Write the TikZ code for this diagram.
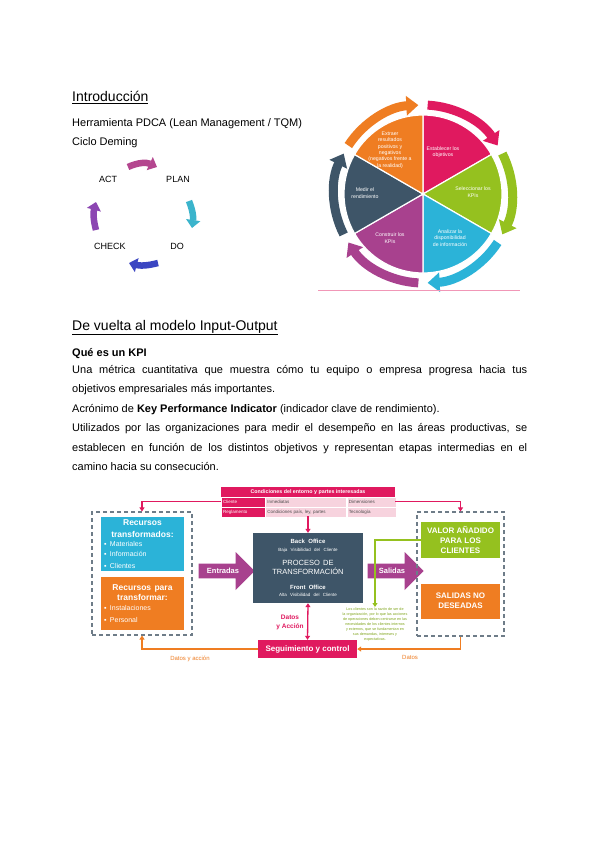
\documentclass[tikz,border=0pt]{standalone}
\usepackage{fontspec}
\setmainfont{Liberation Sans}
\usetikzlibrary{arrows.meta,positioning,calc,shapes.arrows}
\setlength{\parindent}{0pt}
\definecolor{rosa}{HTML}{E0195F}
\definecolor{rosaclaro}{HTML}{F7D3DE}
\definecolor{cian}{HTML}{2BB3D8}
\definecolor{naranja}{HTML}{EF7D22}
\definecolor{verde}{HTML}{95C11F}
\definecolor{pizarra}{HTML}{3E5568}
\definecolor{morado}{HTML}{A8418E}
\definecolor{gris}{HTML}{6E7C88}
\definecolor{cmag}{HTML}{B4468F}
\definecolor{ccian}{HTML}{3BB4CC}
\definecolor{cazul}{HTML}{3B46C2}
\definecolor{clila}{HTML}{8C46B2}

\begin{document}
\begin{tikzpicture}[x=1pt, y=-1pt,
  caja/.style={fill=#1, text=white, inner sep=0pt},
  celda/.style={fill=#1, draw=white, line width=0.4pt, minimum height=9.5pt, inner xsep=2pt, inner ysep=0pt, align=left, font=\fontsize{4.5}{5}\selectfont},
  marco/.style={draw=gris, dash pattern=on 4pt off 3pt, line width=1.1pt},
  flecha/.style={single arrow, fill=morado, text=white, font=\fontsize{7.5}{9}\selectfont\bfseries, minimum height=56pt, minimum width=38pt, single arrow head extend=8pt, inner sep=2pt},
  linea/.style={draw=#1, line width=1.3pt, -{Triangle[length=4pt,width=5pt]}},
  ciclo/.style={line width=6.5pt, -{Triangle[length=8pt,width=14pt]}},
  rueda/.style={line width=9pt, -{Triangle[length=12pt,width=19pt]}},
  wtxt/.style={text=white, align=center, font=\fontsize{5.2}{6.3}\selectfont},
  cuerpo/.style={anchor=base west, inner sep=0pt, font=\fontsize{11}{13}\selectfont}]
\useasboundingbox (0,0) rectangle (600,848);
\fill[white] (0,0) rectangle (600,848);

% Introduccion
\node[anchor=base west, inner sep=0pt, font=\fontsize{14}{16}\selectfont] (intro) at (72,102) {\underline{Introducción}};
\node[cuerpo] (pdca) at (72,126) {Herramienta PDCA (Lean Management / TQM)};
\node[cuerpo] (deming) at (72,146) {Ciclo Deming};

% ciclo PDCA
\node[font=\fontsize{9}{10}\selectfont] (act) at (108,179) {ACT};
\node[font=\fontsize{9}{10}\selectfont] (plan) at (178,179) {PLAN};
\node[font=\fontsize{9}{10}\selectfont] (check) at (110,246) {CHECK};
\node[font=\fontsize{9}{10}\selectfont] (do) at (177,246) {DO};
\draw[ciclo, cmag] ([shift={(20,-12)}]act.center) to[bend left=25] ([shift={(-21,-12)}]plan.center);
\draw[ciclo, ccian] ([shift={(11,22)}]plan.center) to[bend left=15] ([shift={(15,-18)}]do.center);
\draw[ciclo, cazul] ([shift={(-19,17)}]do.center) to[bend left=15] ([shift={(19,17)}]check.center);
\draw[ciclo, clila] ([shift={(-14,-16)}]check.center) to[bend left=15] ([shift={(-12,23)}]act.center);

% rueda de los KPI
\coordinate (wc) at (423,194);
\begin{scope}[shift={(wc)}, yscale=-1]
  \foreach \a/\c in {30/rosa, -30/verde, -90/cian, -150/morado, 150/pizarra, 90/naranja} {
    \filldraw[fill=\c, draw=white, line width=1.2pt] (0,0) -- (\a:79) arc[start angle=\a, end angle=\a+60, radius=79] -- cycle;
    \draw[rueda, \c] (\a+57:89) arc[start angle=\a+57, end angle=\a+3, radius=89];
  }
\end{scope}
\node[wtxt] (w1) at (443,152) {Establecer los\\objetivos};
\node[wtxt] (w2) at (473,192) {Seleccionar los\\KPIs};
\node[wtxt] (w3) at (450,238) {Analizar la\\disponibilidad\\de información};
\node[wtxt] (w4) at (390,238) {Construir los\\KPIs};
\node[wtxt] (w5) at (365,193) {Medir el\\rendimiento};
\node[wtxt] (w6) at (390,150) {Extraer\\resultados\\positivos y\\negativos\\(negativos frente a\\la realidad)};
\draw[rosa!45, line width=0.8pt] (318,290) -- (520,290);

% Input-Output
\node[anchor=base west, inner sep=0pt, font=\fontsize{14}{16}\selectfont] (vuelta) at (72,330) {\underline{De vuelta al modelo Input-Output}};
\node[cuerpo, font=\fontsize{11}{13}\selectfont\bfseries] (quees) at (72,356) {Qué es un KPI};
\node[anchor=north west, text width=455pt, align=justify, inner sep=0pt, font=\fontsize{11}{19.5}\selectfont] (texto) at (72,365) {Una métrica cuantitativa que muestra cómo tu equipo o empresa progresa hacia tus\linebreak objetivos empresariales más importantes.\par
Acrónimo de \textbf{Key Performance Indicator} (indicador clave de rendimiento).\par
Utilizados por las organizaciones para medir el desempeño en las áreas productivas, se\linebreak establecen en función de los distintos objetivos y representan etapas intermedias en el\linebreak camino hacia su consecución.};

% modelo
\node[minimum width=174pt, minimum height=29pt, inner sep=0pt] (tabla) at (308,501.5) {};
\node[caja=rosa, minimum width=174pt, minimum height=10pt, anchor=north, font=\fontsize{5.3}{6}\selectfont\bfseries] (cond) at (tabla.north) {Condiciones del entorno y partes interesadas};
\node[celda=rosa, text=white, text width=40pt, anchor=north west] (cli) at (cond.south west) {Cliente};
\node[celda=rosaclaro, text=black!70, text width=77pt, right=0pt of cli] (inm) {Inmediatas};
\node[celda=rosaclaro, text=black!70, text width=45pt, right=0pt of inm] (dim) {Dimensiones};
\node[celda=rosa, text=white, text width=40pt, below=0pt of cli] (reg) {Reglamento};
\node[celda=rosaclaro, text=black!70, text width=77pt, right=0pt of reg] (pais) {Condiciones país, ley, partes};
\node[celda=rosaclaro, text=black!70, text width=45pt, right=0pt of pais] (tec) {Tecnología};

\node[marco, minimum width=100pt, minimum height=123pt] (izq) at (142,573.5) {};
\node[caja=cian, text width=77pt, minimum width=83pt, minimum height=54pt, align=left] (recA) at (142.5,544) {\centering\fontsize{8.5}{12}\selectfont\bfseries Recursos\\transformados:\par
\fontsize{7}{9.5}\selectfont\mdseries\raggedright ▪\enspace Materiales\\▪\enspace Información\\▪\enspace Clientes};
\node[caja=naranja, text width=77pt, minimum width=83pt, minimum height=53pt, align=left] (recB) at (142.5,603.5) {\centering\fontsize{8.5}{10.5}\selectfont\bfseries Recursos para\\transformar:\par
\fontsize{7}{10}\selectfont\mdseries\raggedright ▪\enspace Instalaciones\\▪\enspace Personal};
\node[flecha] (entradas) at (223,571) {Entradas};
\node[caja=pizarra, text width=104pt, minimum width=110pt, minimum height=70pt, align=center] (proc) at (308,568) {{\fontsize{6}{7}\selectfont\bfseries Back Office\par}
{\fontsize{4.5}{7.5}\selectfont Baja Visibilidad del Cliente\par}
{\fontsize{7.5}{14}\selectfont PROCESO DE\par}
{\fontsize{7.5}{9}\selectfont TRANSFORMACIÓN\par}
{\fontsize{6}{15.5}\selectfont\bfseries Front Office\par}
{\fontsize{4.5}{7}\selectfont Alta Visibilidad del Cliente\par}};
\node[flecha] (salidas) at (392,571) {Salidas};

\node[marco, minimum width=87pt, minimum height=124pt] (der) at (460.5,574) {};
\node[caja=verde, minimum width=79pt, minimum height=36pt, align=center, font=\fontsize{8}{9.7}\selectfont\bfseries] (valor) at (460.5,540) {VALOR AÑADIDO\\PARA LOS\\CLIENTES};
\node[caja=naranja, minimum width=79pt, minimum height=35pt, align=center, font=\fontsize{8}{10}\selectfont\bfseries] (nodes) at (460.5,601) {SALIDAS NO\\DESEADAS};
\node[text=verde!85!black, align=center, inner sep=1pt, font=\fontsize{3.7}{5}\selectfont, anchor=north] (nota) at (375,607) {Los clientes son la razón de ser de\\la organización, por lo que las acciones\\de operaciones deben centrarse en las\\necesidades de los clientes internos\\y externos, que se fundamentan en\\sus demandas, intereses y\\expectativas.};

\node[caja=rosa, minimum width=99pt, minimum height=18pt, font=\fontsize{8}{9}\selectfont\bfseries] (seg) at (307.5,649) {Seguimiento y control};
\node[text=rosa, align=center, font=\fontsize{6.5}{9}\selectfont\bfseries] (datosacc) at (290,622) {Datos\\y Acción};
\node[text=naranja, font=\fontsize{6}{7}\selectfont] (datosizq) at (190,659) {Datos y acción};
\node[text=naranja, font=\fontsize{6}{7}\selectfont] (datosder) at (410,657) {Datos};

\draw[linea=rosa] (tabla.west) -| (izq.north);
\draw[linea=rosa] (tabla.east) -| (der.north);
\draw[linea=rosa] (tabla.south) -- (proc.north);
\draw[linea=rosa, {Triangle[length=4pt,width=5pt]}-{Triangle[length=4pt,width=5pt]}] (proc.south) -- (seg.north);
\draw[linea=naranja] (seg.west) -| (izq.south);
\draw[linea=naranja] (der.south) |- (seg.east);
\draw[linea=verde] (valor.west) -| (nota.north);
\end{tikzpicture}
\end{document}
